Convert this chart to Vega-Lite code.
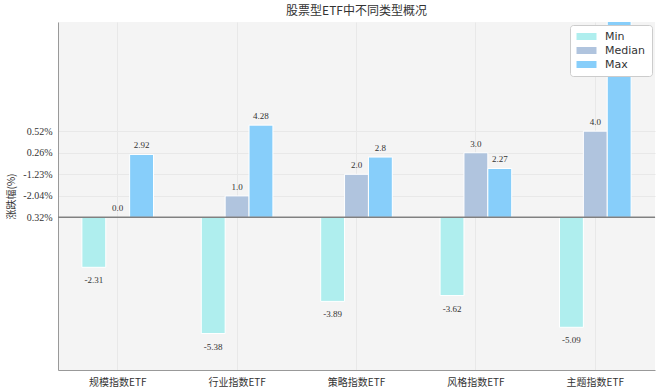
{
  "$schema": "https://vega.github.io/schema/vega-lite/v6.json",
  "width": 597,
  "height": 348,
  "autosize": {"type": "none"},
  "padding": {"left": 58, "top": 22, "right": 5, "bottom": 22},
  "background": "white",
  "title": {"text": "股票型ETF中不同类型概况", "font": "Noto Sans CJK SC", "fontSize": 12, "fontWeight": "normal", "color": "#333333", "offset": 4},
  "config": {
    "view": {"stroke": null, "fill": "#f4f4f4"},
    "axis": {"gridColor": "#e8e8e8", "gridWidth": 1, "domainColor": "#999999", "ticks": false, "labelColor": "#333333", "labelFont": "Liberation Serif, Noto Sans CJK SC", "labelFontSize": 10}
  },
  "data": {
    "values": [
      {"category": "规模指数ETF", "type": "Min", "value": -2.31, "label": "-2.31"},
      {"category": "规模指数ETF", "type": "Median", "value": 0.0, "label": "0.0"},
      {"category": "规模指数ETF", "type": "Max", "value": 2.92, "label": "2.92"},
      {"category": "行业指数ETF", "type": "Min", "value": -5.38, "label": "-5.38"},
      {"category": "行业指数ETF", "type": "Median", "value": 1.0, "label": "1.0"},
      {"category": "行业指数ETF", "type": "Max", "value": 4.28, "label": "4.28"},
      {"category": "策略指数ETF", "type": "Min", "value": -3.89, "label": "-3.89"},
      {"category": "策略指数ETF", "type": "Median", "value": 2.0, "label": "2.0"},
      {"category": "策略指数ETF", "type": "Max", "value": 2.8, "label": "2.8"},
      {"category": "风格指数ETF", "type": "Min", "value": -3.62, "label": "-3.62"},
      {"category": "风格指数ETF", "type": "Median", "value": 3.0, "label": "3.0"},
      {"category": "风格指数ETF", "type": "Max", "value": 2.27, "label": "2.27"},
      {"category": "主题指数ETF", "type": "Min", "value": -5.09, "label": "-5.09"},
      {"category": "主题指数ETF", "type": "Median", "value": 4.0, "label": "4.0"},
      {"category": "主题指数ETF", "type": "Max", "value": 28.4, "label": "28.4"}
    ]
  },
  "encoding": {
    "x": {
      "field": "category", "type": "nominal",
      "sort": ["规模指数ETF", "行业指数ETF", "策略指数ETF", "风格指数ETF", "主题指数ETF"],
      "scale": {"paddingInner": 0, "paddingOuter": 0},
      "axis": {"title": null, "labelAngle": 0, "grid": true, "labelPadding": 7, "labelFont": "Noto Sans CJK SC", "labelFontSize": 10}
    },
    "xOffset": {"field": "type", "type": "nominal", "sort": ["Min", "Median", "Max"], "scale": {"paddingInner": 0, "paddingOuter": 1}},
    "y": {
      "field": "value", "type": "quantitative",
      "scale": {"domain": [-7.07, 9.06], "nice": false, "zero": false},
      "axis": {
        "values": [0, 1, 2, 3, 4],
        "labelExpr": "datum.value == 0 ? '0.32%' : datum.value == 1 ? '-2.04%' : datum.value == 2 ? '-1.23%' : datum.value == 3 ? '0.26%' : '0.52%'",
        "title": "涨跌幅(%)", "titleFont": "Noto Sans CJK SC", "titleFontSize": 10, "titleFontWeight": "normal", "titleColor": "#333333",
        "grid": true, "labelPadding": 6, "titlePadding": 6
      }
    }
  },
  "layer": [
    {
      "mark": {"type": "bar", "stroke": "white", "strokeWidth": 1, "clip": true},
      "encoding": {
        "color": {
          "field": "type", "type": "nominal",
          "scale": {"domain": ["Min", "Median", "Max"], "range": ["#afeeee", "#b0c4de", "#87cefa"]},
          "legend": {
            "title": null, "orient": "top-right", "offset": 3,
            "fillColor": "white", "strokeColor": "#cccccc", "cornerRadius": 3, "padding": 6,
            "labelFont": "DejaVu Sans", "labelFontSize": 11, "labelColor": "#333333",
            "symbolType": "M-1,-0.7H3V0.7H-1Z", "symbolSize": 100, "symbolStrokeWidth": 0, "rowPadding": 2, "labelOffset": 18
          }
        }
      }
    },
    {
      "transform": [{"filter": "datum.value >= 0 && datum.value < 9"}],
      "mark": {"type": "text", "baseline": "bottom", "dy": -4, "font": "Liberation Serif", "fontSize": 9, "color": "#333333", "clip": true},
      "encoding": {"text": {"field": "label"}}
    },
    {
      "transform": [{"filter": "datum.value < 0"}],
      "mark": {"type": "text", "baseline": "top", "dy": 9, "font": "Liberation Serif", "fontSize": 9, "color": "#333333", "clip": true},
      "encoding": {"text": {"field": "label"}}
    },
    {
      "mark": {"type": "rule", "color": "#808080", "strokeWidth": 1},
      "encoding": {"y": {"datum": 0}, "x": {"value": 0}, "x2": {"value": 597}, "xOffset": null}
    }
  ]
}
